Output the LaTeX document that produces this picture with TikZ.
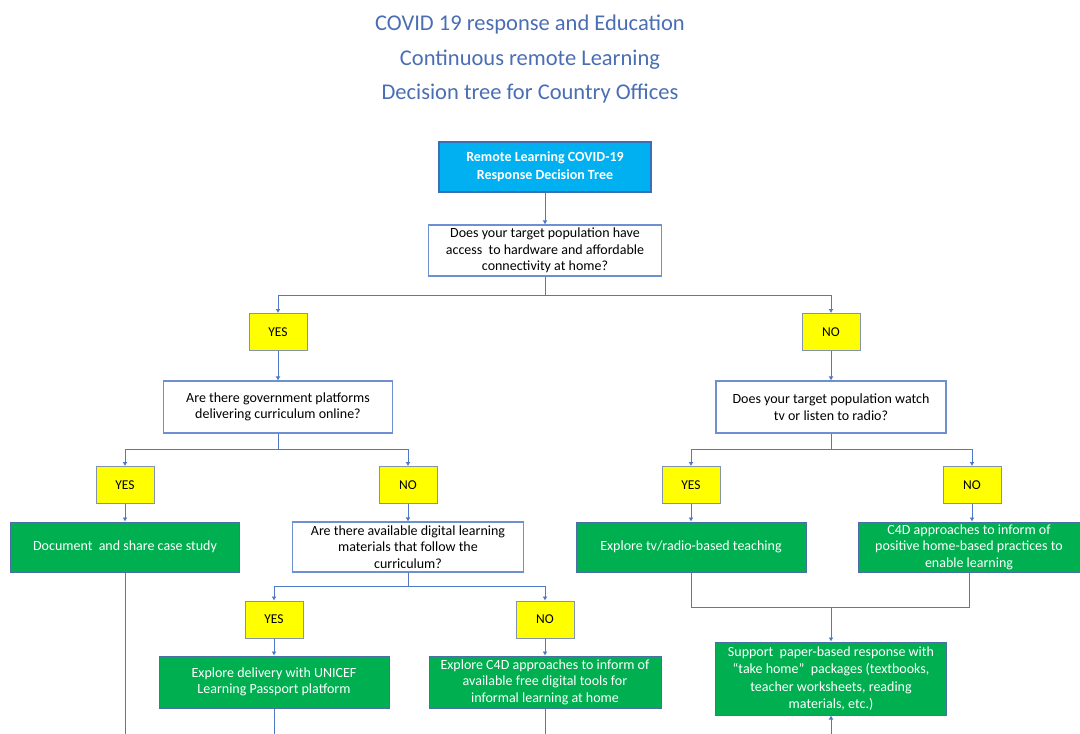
\documentclass[tikz,border=0pt]{standalone}
\usepackage{fontspec}
\setmainfont{Carlito}
\usetikzlibrary{arrows.meta}
\definecolor{titleblue}{HTML}{4A6EB4}
\definecolor{lineblue}{HTML}{4F78C6}
\definecolor{qblue}{HTML}{6E8FD0}
\definecolor{ynborder}{HTML}{8393AD}
\definecolor{ynfill}{HTML}{FFFF00}
\definecolor{gofill}{HTML}{00AF4F}
\definecolor{goborder}{HTML}{4C6EA6}
\definecolor{topfill}{HTML}{00B0F0}
\definecolor{topborder}{HTML}{3A6FB5}
\begin{document}
\begin{tikzpicture}[x=1pt,y=-1pt,
	conn/.style={draw=lineblue,line width=1pt},
	arr/.style={conn,-{Latex[length=4pt,width=5pt]}},
	qbox/.style={draw=qblue,line width=1.2pt,fill=white,align=center,inner sep=0pt,font=\fontsize{14}{16.5}\selectfont},
	ynbox/.style={draw=ynborder,line width=1pt,fill=ynfill,inner sep=0pt,minimum width=58pt,minimum height=37pt,font=\fontsize{13.5}{15}\selectfont},
	gobox/.style={draw=goborder,line width=1pt,fill=gofill,text=white,align=center,inner sep=0pt,font=\fontsize{14}{16.5}\selectfont},
	topbox/.style={draw=topborder,line width=1.2pt,fill=topfill,text=white,align=center,inner sep=0pt,font=\bfseries\fontsize{14}{18}\selectfont}]
	\useasboundingbox (0,0) rectangle (1080,734);

	\node[text=titleblue,align=center,font=\fontsize{22.5}{34.5}\selectfont] (title) at (530,59)
		{COVID 19 response and Education\\Continuous remote Learning\\Decision tree for Country Offices};

	\node[topbox,minimum width=212pt,minimum height=50pt] (start) at (545,167) {Remote Learning COVID-19\\Response Decision Tree};
	\node[qbox,minimum width=233pt,minimum height=51pt] (hardware) at (545,250.5) {Does your target population have\\access\ \ to hardware and affordable\\connectivity at home?};

	\node[ynbox] (hwyes) at (278,332) {YES};
	\node[ynbox] (hwno) at (831,332) {NO};

	\node[qbox,minimum width=229pt,minimum height=52pt] (govplat) at (278,407) {Are there government platforms\\delivering curriculum online?};
	\node[qbox,minimum width=230pt,minimum height=52pt] (tvradio) at (831,407) {Does your target population watch\\tv or listen to radio?};

	\node[ynbox] (govyes) at (125,485) {YES};
	\node[ynbox] (govno) at (408,485) {NO};
	\node[ynbox] (tvyes) at (691,485) {YES};
	\node[ynbox] (tvno) at (972,485) {NO};

	\node[gobox,minimum width=229pt,minimum height=50pt] (casestudy) at (125,547) {Document\ \ and share case study};
	\node[qbox,minimum width=231pt,minimum height=50pt] (digmat) at (408,547) {Are there available digital learning\\materials that follow the\\curriculum?};
	\node[gobox,minimum width=230pt,minimum height=50pt] (tvteach) at (691,547) {Explore tv/radio-based teaching};
	\node[gobox,minimum width=222pt,minimum height=50pt] (homeprac) at (969,547) {C4D approaches to inform of\\positive home-based practices to\\enable learning};

	\node[ynbox] (matyes) at (274,619.5) {YES};
	\node[ynbox] (matno) at (545,619.5) {NO};

	\node[gobox,minimum width=230pt,minimum height=52pt] (passport) at (274,682) {Explore delivery with UNICEF\\Learning Passport platform};
	\node[gobox,minimum width=232pt,minimum height=52pt] (freetools) at (545,682) {Explore C4D approaches to inform of\\available free digital tools for\\informal learning at home};
	\node[gobox,minimum width=231pt,minimum height=73pt,font=\fontsize{14}{17.3}\selectfont] (paper) at (831,678.5) {Support\ \ paper-based response with\\``take home''\ \ packages (textbooks,\\teacher worksheets, reading\\materials, etc.)};

	\coordinate (hwsplit) at (545,295);
	\coordinate (govsplit) at (278,449);
	\coordinate (tvsplit) at (831,449);
	\coordinate (matsplit) at (408,586);
	\coordinate (tvjoin) at (831,607);
	\coordinate (caseend) at (125,734);
	\coordinate (passend) at (274,734);
	\coordinate (toolsend) at (545,734);
	\coordinate (paperend) at (831,734);

	\draw[arr] (start) -- (hardware);
	\draw[conn] (hardware) -- (hwsplit);
	\draw[arr] (hwsplit) -| (hwyes);
	\draw[arr] (hwsplit) -| (hwno);
	\draw[arr] (hwyes) -- (govplat);
	\draw[arr] (hwno) -- (tvradio);

	\draw[conn] (govplat) -- (govsplit);
	\draw[arr] (govsplit) -| (govyes);
	\draw[arr] (govsplit) -| (govno);
	\draw[conn] (tvradio) -- (tvsplit);
	\draw[arr] (tvsplit) -| (tvyes);
	\draw[arr] (tvsplit) -| (tvno);

	\draw[arr] (govyes) -- (casestudy);
	\draw[arr] (govno) -- (digmat);
	\draw[arr] (tvyes) -- (tvteach);
	\draw[arr] (tvno) -- (tvno |- homeprac.north);

	\draw[conn] (casestudy) -- (caseend);
	\draw[conn] (digmat) -- (matsplit);
	\draw[arr] (matsplit) -| (matyes);
	\draw[arr] (matsplit) -| (matno);
	\draw[arr] (matyes) -- (passport);
	\draw[arr] (matno) -- (freetools);
	\draw[conn] (passport) -- (passend);
	\draw[conn] (freetools) -- (toolsend);

	\draw[conn] (tvteach) |- (tvjoin);
	\draw[conn] (homeprac) |- (tvjoin);
	\draw[arr] (tvjoin) -- (paper);
	\draw[arr] (paperend) -- (paper);
\end{tikzpicture}
\end{document}
